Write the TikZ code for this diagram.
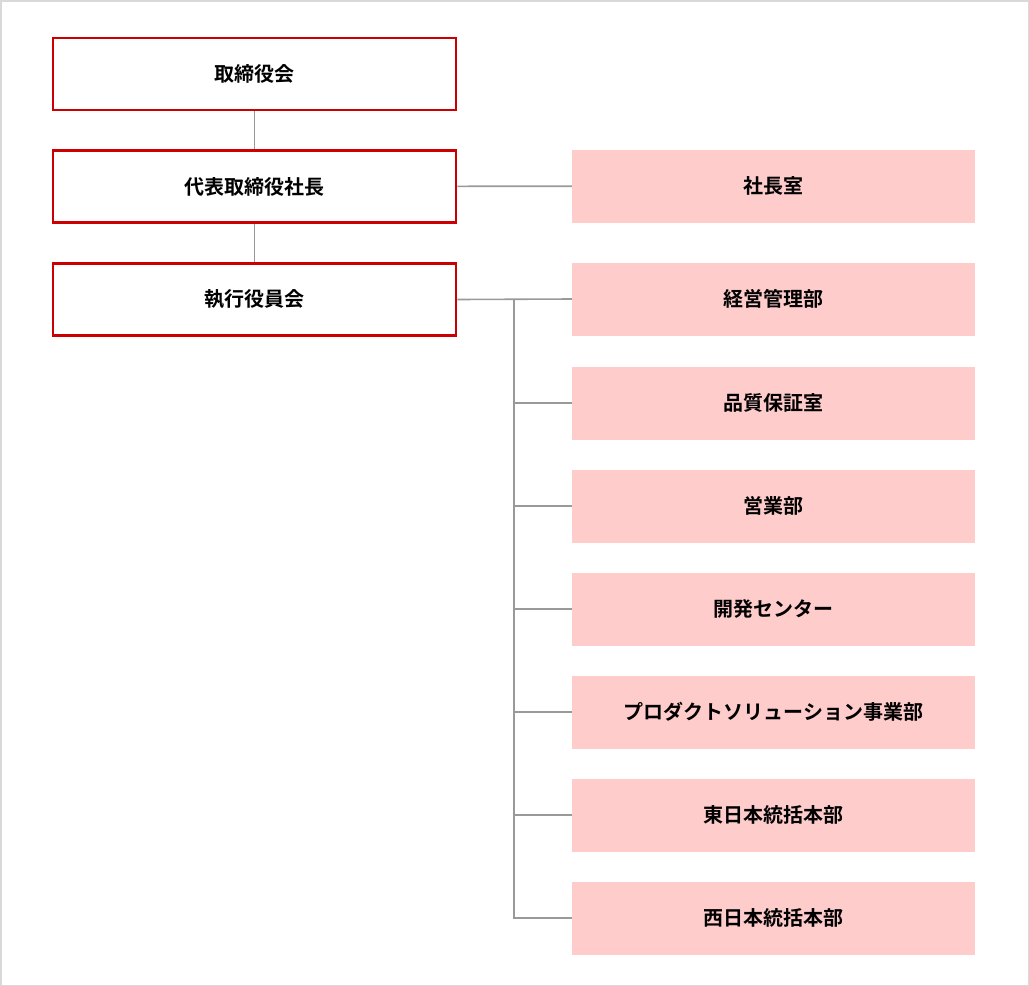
\documentclass[tikz,border=0pt]{standalone}
\usepackage{fontspec}
\setmainfont{Noto Sans CJK JP}[BoldFont={Noto Sans CJK JP Bold}]
\begin{document}
\begin{tikzpicture}[x=1pt, y=-1pt,
    board/.style={draw=red!80!black, line width=2.5pt, fill=white, minimum width=403pt, minimum height=72pt, font=\fontsize{20}{24}\selectfont\bfseries},
    dept/.style={fill=red!20!white, minimum width=403pt, minimum height=73pt, font=\fontsize{20}{24}\selectfont\bfseries},
    link/.style={draw=gray!80, line width=1.6pt}]
    % Frame
    \draw[gray!30, line width=1.5pt, fill=white] (0.75,0.75) rectangle (1028.25,985.25);
    \useasboundingbox (0,0) rectangle (1029,986);

    % Board
    \node[board] (BD) at (254.5, 74) {取締役会};
    \node[board] (PR) at (254.5, 186.5) {代表取締役社長};
    \node[board] (EX) at (254.5, 299.5) {執行役員会};

    % Departments
    \node[dept] (D0) at (773.5, 186) {社長室};
    \node[dept] (D1) at (773.5, 299) {経営管理部};
    \node[dept] (D2) at (773.5, 403) {品質保証室};
    \node[dept] (D3) at (773.5, 506) {営業部};
    \node[dept] (D4) at (773.5, 609) {開発センター};
    \node[dept] (D5) at (773.5, 712) {プロダクトソリューション事業部};
    \node[dept] (D6) at (773.5, 815) {東日本統括本部};
    \node[dept] (D7) at (773.5, 918) {西日本統括本部};

    % Lines
    \draw[link] (BD) -- (PR);
    \draw[link] (PR) -- (D0);
    \draw[link] (PR) -- (EX);
    \coordinate (T) at (514, 299);
    \draw[link] (EX.east) -- (D1.west);
    \draw[link] (T) |- (D7.west);
    \foreach \d in {D2,D3,D4,D5,D6}
        \draw[link] (T |- \d.west) -- (\d.west);
\end{tikzpicture}
\end{document}
